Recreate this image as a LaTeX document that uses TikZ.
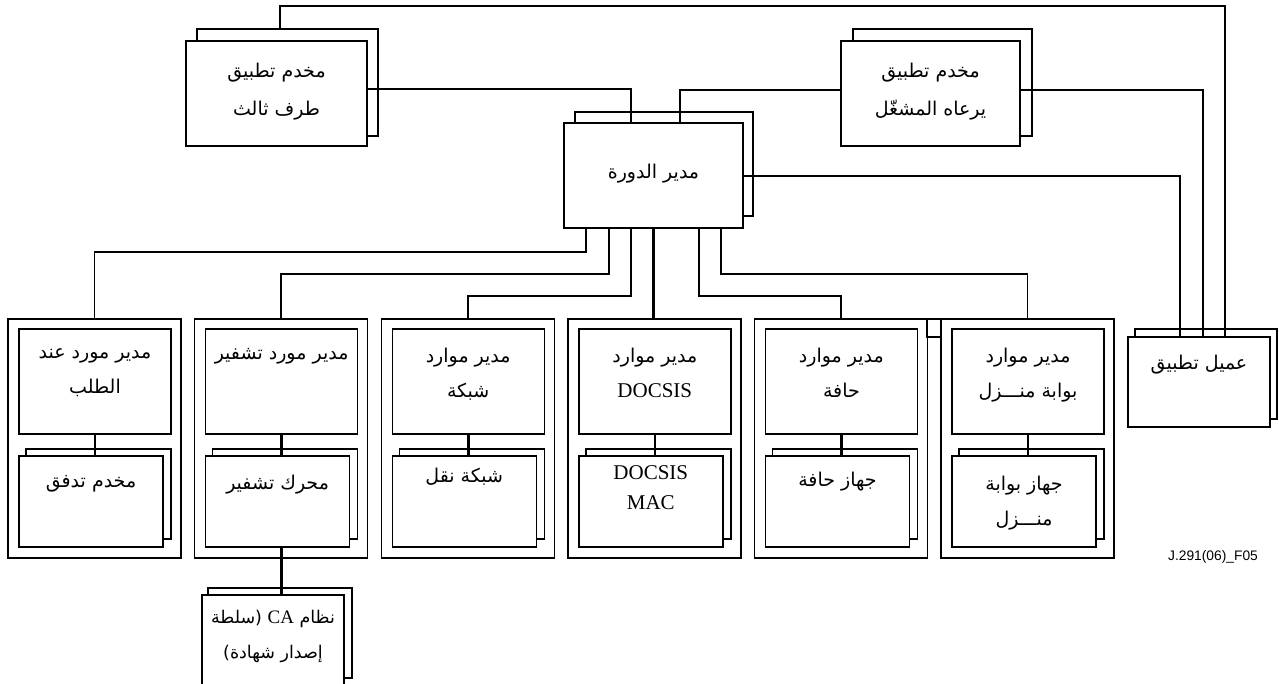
\documentclass[tikz,border=0pt]{standalone}
\usepackage{fontspec}
\setmainfont{Liberation Serif}
\newfontfamily\arabicfont[Script=Arabic]{DejaVu Sans}
\newfontfamily\labelfont{Liberation Sans}
\TeXXeTstate=1
\usetikzlibrary{calc}
\newcommand\artxt[1]{\beginR#1\endR}
\newcommand\lat[1]{{\rmfamily\fontsize{21bp}{33bp}\selectfont #1}}
\newcommand\smalllat[1]{{\rmfamily\fontsize{19bp}{33bp}\selectfont #1}}
\begin{document}
\begin{tikzpicture}[x=1bp,y=-1bp,
  bx/.style 2 args={draw, fill=white, line width=1.4bp, inner sep=0pt,
    minimum width=#1 bp, minimum height=#2 bp},
  wire/.style={line width=1.6bp},
  fatwire/.style={line width=2.6bp},
  artext/.style={font=\arabicfont\fontsize{19bp}{35bp}\selectfont,
    align=center, inner sep=0pt, anchor=north},
  wideartext/.style={artext, font=\arabicfont\fontsize{19bp}{38bp}\selectfont},
  caartext/.style={artext, font=\arabicfont\fontsize{17.5bp}{35bp}\selectfont},
  lattext/.style={font=\rmfamily\fontsize{21bp}{30bp}\selectfont,
    align=center, inner sep=0pt, anchor=north},
  figlabel/.style={font=\labelfont\fontsize{13.8bp}{15bp}\selectfont, inner sep=0pt}]
\useasboundingbox (0,0) rectangle (1279,684);

% back boxes of the stacked pairs
\node[bx={181}{107}] (tpb) at (287.5,82.5) {};
\node[bx={179}{107}] (opb) at (942.5,82.5) {};
\node[bx={178}{104}] (smb) at (664,164) {};
\node[bx={142}{90}] (clb) at (1206,374) {};
\node[bx={144}{90}] (cab) at (280,633) {};

% front boxes
\node[bx={181}{105}] (tpf) at (276.5,93.5) {};
\node[bx={179}{105}] (opf) at (930.5,93.5) {};
\node[bx={179}{105}] (smf) at (653.5,175.5) {};
\node[bx={142}{90}] (clf) at (1199,382) {};
\node[bx={142}{92}] (caf) at (273,641) {};

% resource manager groups
\foreach \i in {0,...,5} {
  \pgfmathsetmacro\L{8+186.6*\i}
  \node[bx={173}{239}] (g\i) at (\L+86.5,438.5) {};
  \node[bx={152}{105}] (g\i-t) at (\L+87,381.5) {};
  \node[bx={145}{90}] (g\i-bb) at (\L+90.5,494) {};
  \node[bx={144}{91}] (g\i-bf) at (\L+83,501.5) {};
  \draw[fatwire] (g\i-t.south) -- (g\i-t.south |- g\i-bf.north);
}
\node[bx={14}{18}] (bridge) at (934,328) {};

% connectors
\draw[wire] ([xshift=-7.5bp]tpb.north) -- ++(0,-22) -| ([xshift=26bp]clf.north);
\draw[wire] ([xshift=-22.5bp]smf.north) |- (tpf.east |- 0,89);
\draw[wire] ([xshift=26.5bp]smf.north) |- (opf.west |- 0,90);
\draw[wire] (opf.east |- 0,90) -| ([xshift=4bp]clf.north);
\draw[wire] (smf.east |- 0,176) -| ([xshift=-19bp]clf.north);
\draw[wire] ([xshift=-67.5bp]smf.south) -- ++(0,23) -| (g0.north);
\draw[wire] ([xshift=-44.5bp]smf.south) -- ++(0,45) -| (g1.north);
\draw[wire] ([xshift=-22.5bp]smf.south) -- ++(0,67) -| (g2.north);
\draw[fatwire] (smf.south) -- (smf.south |- g3.north);
\draw[wire] ([xshift=45.5bp]smf.south) -- ++(0,67) -| (g4.north);
\draw[wire] ([xshift=67.5bp]smf.south) -- ++(0,45) -| (g5.north);
\draw[fatwire] (g1-t.south |- g1-bf.south) -- (g1-t.south |- caf.north);

% texts
\node[wideartext] (tpt) at (276.5,63) {\artxt{مخدم تطبيق}\\\artxt{طرف ثالث}};
\node[wideartext] (opt) at (930.5,63) {\artxt{مخدم تطبيق}\\\artxt{يرعاه المشغّل}};
\node[artext] (smt) at (653.5,164) {\artxt{مدير الدورة}};
\node[artext] (clt) at (1199,355) {\artxt{عميل تطبيق}};
\node[artext] (g0tt) at (g0-t.north |- 0,348) {\artxt{مدير مورد عند}\\\artxt{الطلب}};
\node[artext] (g1tt) at (g1-t.north |- 0,348) {\artxt{مدير مورد تشفير}};
\node[artext] (g2tt) at (g2-t.north |- 0,348) {\artxt{مدير موارد}\\\artxt{شبكة}};
\node[artext] (g3tt) at (g3-t.north |- 0,348) {\artxt{مدير موارد}\\\lat{DOCSIS}};
\node[artext] (g4tt) at (g4-t.north |- 0,348) {\artxt{مدير موارد}\\\artxt{حافة}};
\node[artext] (g5tt) at (g5-t.north |- 0,348) {\artxt{مدير موارد}\\\artxt{بوابة منـــزل}};
\node[artext] (g0bt) at (g0-bf.north |- 0,475) {\artxt{مخدم تدفق}};
\node[artext] (g1bt) at (g1-bf.north |- 0,475) {\artxt{محرك تشفير}};
\node[artext] (g2bt) at (g2-bf.north |- 0,468) {\artxt{شبكة نقل}};
\node[lattext] (g3bt) at (g3-bf.north |- 0,465) {DOCSIS\\MAC};
\node[artext] (g4bt) at (g4-bf.north |- 0,472) {\artxt{جهاز حافة}};
\node[artext] (g5bt) at (g5-bf.north |- 0,476) {\artxt{جهاز بوابة}\\\artxt{منـــزل}};
\node[caartext] (cat) at (caf.north |- 0,610) {\artxt{نظام \beginL\smalllat{CA}\endL{} (سلطة}\\\artxt{إصدار شهادة)}};
\node[figlabel] (fig) at (1213,557) {J.291(06)\_F05};
\end{tikzpicture}
\end{document}
